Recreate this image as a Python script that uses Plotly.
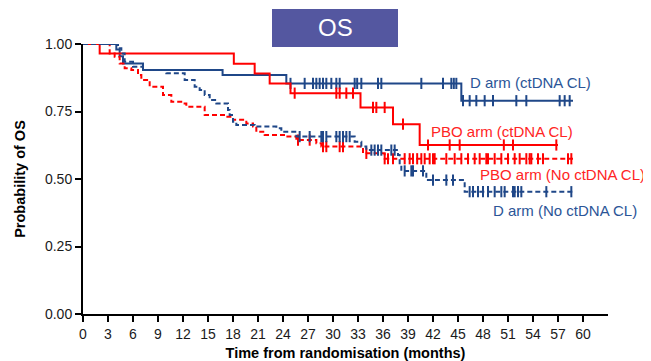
import numpy as np
import plotly.graph_objects as go

# ---------------- data ----------------
x_ticks = list(range(0, 61, 3))
y_ticks = [0.0, 0.25, 0.5, 0.75, 1.0]
y_tick_labels = ["0.00", "0.25", "0.50", "0.75", "1.00"]

# D arm (ctDNA CL) - solid blue
d_cl_times = [0, 4.0, 4.4, 4.8, 7.2, 16.75, 24.4, 45.4]
d_cl_surv = [1.0, 0.98, 0.955, 0.928, 0.904, 0.885, 0.854, 0.79]
d_cl_end = 58.8
d_cl_censor = [24.9, 26.6, 27.6, 28.0, 28.4, 28.8, 29.2, 29.8, 30.4, 30.8, 32.6, 32.9,
               33.4, 35.4, 35.8, 40.6, 43.2, 44.2, 44.5, 44.8, 45.6, 46.4, 47.2, 48.2,
               49.2, 52.0, 53.2, 57.2, 57.8, 58.4]

# PBO arm (ctDNA CL) - solid red
p_cl_times = [0, 2.0, 18.1, 20.6, 22.4, 24.9, 33.3, 37.2, 40.4]
p_cl_surv = [1.0, 0.965, 0.927, 0.891, 0.854, 0.818, 0.765, 0.703, 0.626]
p_cl_end = 57.0
p_cl_censor = [25.4, 30.4, 30.8, 31.6, 32.4, 34.8, 35.2, 36.2, 38.4, 41.4, 44.0, 45.2,
               50.5, 51.6, 56.8]

# PBO arm (No ctDNA CL) - dashed red
p_no_times = [0, 3.2, 3.8, 4.4, 5.0, 5.8, 6.6, 7.0, 8.0, 9.6, 10.6, 12.0, 12.4, 14.6,
              17.2, 18.0, 19.6, 20.4, 20.8, 21.8, 24.4, 25.6, 28.0, 28.6, 33.6, 36.2]
p_no_surv = [1.0, 0.965, 0.953, 0.928, 0.91, 0.904, 0.885, 0.867, 0.842, 0.811, 0.786,
             0.78, 0.768, 0.737, 0.731, 0.719, 0.706, 0.694, 0.675, 0.663, 0.657, 0.644,
             0.632, 0.62, 0.595, 0.575]
p_no_end = 58.8
p_no_censor = [25.8, 27.2, 28.8, 29.2, 30.8, 31.2, 34.0, 36.2, 36.6, 37.2, 38.6, 39.2,
               39.6, 40.1, 40.6, 41.0, 41.6, 42.0, 42.2, 43.6, 44.6, 45.4, 46.2, 47.0,
               47.6, 48.4, 48.6, 49.4, 50.2, 51.0, 51.8, 52.4, 53.2, 53.6, 53.8, 54.6,
               55.2, 58.2, 58.6]

# D arm (No ctDNA CL) - dashed blue
d_no_times = [0, 4.2, 4.6, 5.0, 6.0, 7.2, 10.0, 12.2, 13.4, 14.0, 14.6, 15.2, 16.0,
              17.4, 17.6, 18.0, 18.4, 20.6, 23.2, 23.8, 25.6, 32.6, 33.4, 34.0, 37.8,
              38.0, 38.2, 41.2, 45.8]
d_no_surv = [1.0, 0.984, 0.965, 0.934, 0.916, 0.904, 0.892, 0.867, 0.842, 0.83, 0.811,
             0.793, 0.78, 0.756, 0.737, 0.712, 0.70, 0.694, 0.688, 0.675, 0.657, 0.638,
             0.62, 0.607, 0.589, 0.558, 0.53, 0.496, 0.453]
d_no_end = 58.8
d_no_censor = [26.0, 27.2, 28.6, 28.8, 29.2, 30.4, 30.8, 31.2, 31.6, 32.0, 34.6, 35.0,
               35.4, 35.8, 37.0, 37.4, 38.6, 39.4, 39.6, 40.8, 42.0, 43.6, 44.4, 46.4,
               46.8, 47.4, 48.0, 48.6, 49.4, 50.2, 50.6, 51.6, 51.8, 52.2, 52.6, 55.6,
               58.6]

series_labels = ["D arm (ctDNA CL)", "PBO arm (ctDNA CL)",
                 "PBO arm (No ctDNA CL)", "D arm (No ctDNA CL)"]
label_pos = [(46.2, 0.856), (41.5, 0.675), (47.4, 0.515), (48.9, 0.383)]

BLUE = "#1f4788"
RED = "#ff0000"
BLUE_TXT = "#2b5597"
RED_TXT = "#ff2424"
FONT = "Liberation Sans, Arial, sans-serif"


def surv_at(times, surv, t):
    idx = np.searchsorted(np.asarray(times), np.asarray(t), side="right") - 1
    return np.asarray(surv)[idx]


fig = go.Figure()

curves = [
    (d_cl_times, d_cl_surv, d_cl_end, d_cl_censor, BLUE, "solid"),
    (p_cl_times, p_cl_surv, p_cl_end, p_cl_censor, RED, "solid"),
    (p_no_times, p_no_surv, p_no_end, p_no_censor, RED, "5px,3px"),
    (d_no_times, d_no_surv, d_no_end, d_no_censor, BLUE, "5px,3px"),
]

for (times, surv, end, cens, col, dash), name in zip(curves, series_labels):
    fig.add_trace(go.Scatter(
        x=list(times) + [end], y=list(surv) + [surv[-1]],
        mode="lines", line=dict(color=col, width=2, dash=dash, shape="hv"),
        name=name, showlegend=False, cliponaxis=False, hoverinfo="skip"))
    fig.add_trace(go.Scatter(
        x=cens, y=surv_at(times, surv, cens), mode="markers",
        marker=dict(symbol="line-ns", size=8, line=dict(color=col, width=2)),
        showlegend=False, cliponaxis=False, hoverinfo="skip"))

for name, (lx, ly), col in zip(series_labels, label_pos, [BLUE_TXT, RED_TXT, RED_TXT, BLUE_TXT]):
    fig.add_annotation(x=lx, y=ly, text=name, showarrow=False, xanchor="left",
                       yanchor="middle", font=dict(family=FONT, size=15, color=col))

# title box
fig.add_shape(type="rect", xref="paper", yref="paper", x0=0.36, x1=0.60, y0=0.989, y1=1.13,
              fillcolor="#5457a0", line=dict(width=0), layer="above")
fig.add_annotation(xref="paper", yref="paper", x=0.48, y=1.06, text="OS", showarrow=False,
                   xanchor="center", yanchor="middle",
                   font=dict(family=FONT, size=24, color="white"))

# the page body has an 8px margin, so the figure is sized to the remaining window
fig.update_layout(
    width=643, height=353,
    margin=dict(l=75, r=43, t=36, b=47, autoexpand=False),
    plot_bgcolor="white", paper_bgcolor="white",
    font=dict(family=FONT, color="#1a1a1a"),
    showlegend=False,
)
fig.update_xaxes(
    range=[0, 63], tickvals=x_ticks, ticks="outside", ticklen=6, tickwidth=2,
    tickcolor="black", showline=True, linecolor="black", linewidth=2, automargin=False,
    showgrid=False, zeroline=False, tickfont=dict(size=14, family=FONT, color="#1a1a1a"),
    title=dict(text="<b>Time from randomisation (months)</b>", standoff=8,
               font=dict(size=14.5, family=FONT, color="black")),
)
fig.update_yaxes(
    range=[0, 1], tickvals=y_ticks, ticktext=y_tick_labels, ticks="outside", ticklen=6,
    tickwidth=2, tickcolor="black", showline=True, linecolor="black", linewidth=2,
    automargin=False,
    showgrid=False, zeroline=False, tickfont=dict(size=14, family=FONT, color="#1a1a1a"),
    title=dict(text="<b>Probability of OS</b>", standoff=16,
               font=dict(size=14.5, family=FONT, color="black")),
)

fig.write_html("out.html")
